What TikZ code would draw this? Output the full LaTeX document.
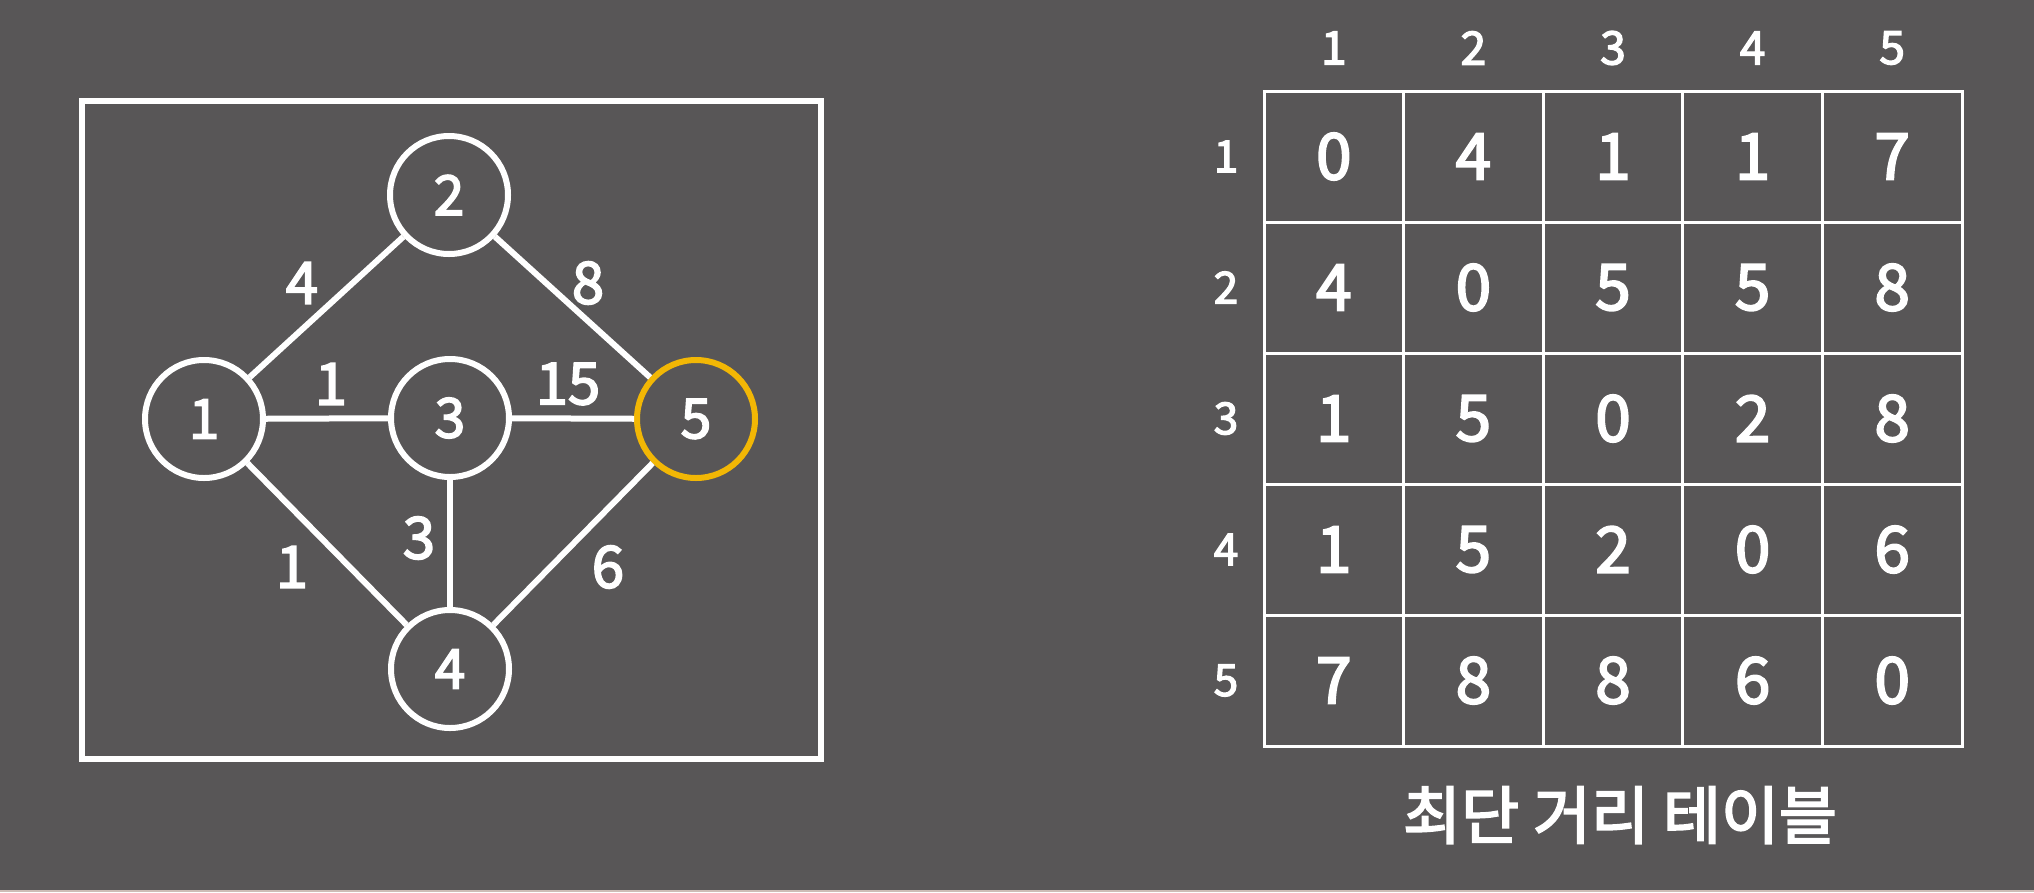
\documentclass[tikz,border=0pt]{standalone}
\usepackage{fontspec}
\setmainfont{Noto Sans CJK KR}[FakeBold=3]
\definecolor{bg}{RGB}{88,86,87}
\definecolor{hl}{RGB}{242,183,5}
\definecolor{edgeline}{RGB}{205,188,182}
\tikzset{
  vnode/.style={circle,draw=white,line width=6pt,minimum size=118pt,inner sep=0pt,text=white,font=\fontsize{55}{55}\selectfont},
  elabel/.style={text=white,inner sep=0pt,font=\fontsize{58}{58}\selectfont},
  link/.style={draw=white,line width=6pt},
  cell/.style={draw=white,line width=3pt,minimum width=139.6pt,minimum height=131pt,inner sep=0pt,text=white,font=\fontsize{64}{64}\selectfont},
  hdr/.style={text=white,inner sep=0pt,font=\fontsize{46}{46}\selectfont},
  rowlab/.style={text=white,inner sep=0pt,font=\fontsize{44}{44}\selectfont},
  caption/.style={text=white,inner sep=0pt,font=\fontsize{63}{63}\selectfont}
}
\begin{document}
\begin{tikzpicture}[x=1pt,y=-1pt]
\fill[bg] (0,0) rectangle (2034,892);
\useasboundingbox (0,0) rectangle (2034,892);
\draw[edgeline,line width=2pt] (0,891) -- (2034,891);
% frame
\draw[white,line width=6pt] (82,101) rectangle (821,759);
% vertices
\node[vnode] (n1) at (204,419) {1};
\node[vnode] (n2) at (449,195) {2};
\node[vnode] (n3) at (450,418) {3};
\node[vnode] (n4) at (450,669) {4};
\node[vnode,draw=hl] (n5) at (696,419) {5};
% edges
\draw[link] (n1) -- (n2);
\draw[link] (n2) -- (n5);
\draw[link] (n1) -- (n3);
\draw[link] (n3) -- (n5);
\draw[link] (n1) -- (n4);
\draw[link] (n3) -- (n4);
\draw[link] (n4) -- (n5);
% edge weights
\node[elabel] (w12) at (302,283) {4};
\node[elabel] (w25) at (588,283) {8};
\node[elabel] (w13) at (331,384) {1};
\node[elabel] (w35) at (568,384) {15};
\node[elabel] (w34) at (419,538) {3};
\node[elabel] (w14) at (292,567) {1};
\node[elabel] (w45) at (608,567) {6};
% table
\foreach \r/\vals in {1/{0,4,1,1,7},2/{4,0,5,5,8},3/{1,5,0,2,8},4/{1,5,2,0,6},5/{7,8,8,6,0}}{
  \foreach \v [count=\c] in \vals {
    \node[cell] (c\r\c) at ({1264+139.6*(\c-0.5)},{91+131*(\r-0.5)}) {\v};
  }
}
\foreach \c in {1,...,5}{
  \node[hdr] (h\c) at ({1264+139.6*(\c-0.5)},48) {\c};
  \node[rowlab] (r\c) at (1226,{91+131*(\c-0.5)}) {\c};
}
\node[caption] (cap) at (1620,815) {최단 거리 테이블};
\end{tikzpicture}
\end{document}
